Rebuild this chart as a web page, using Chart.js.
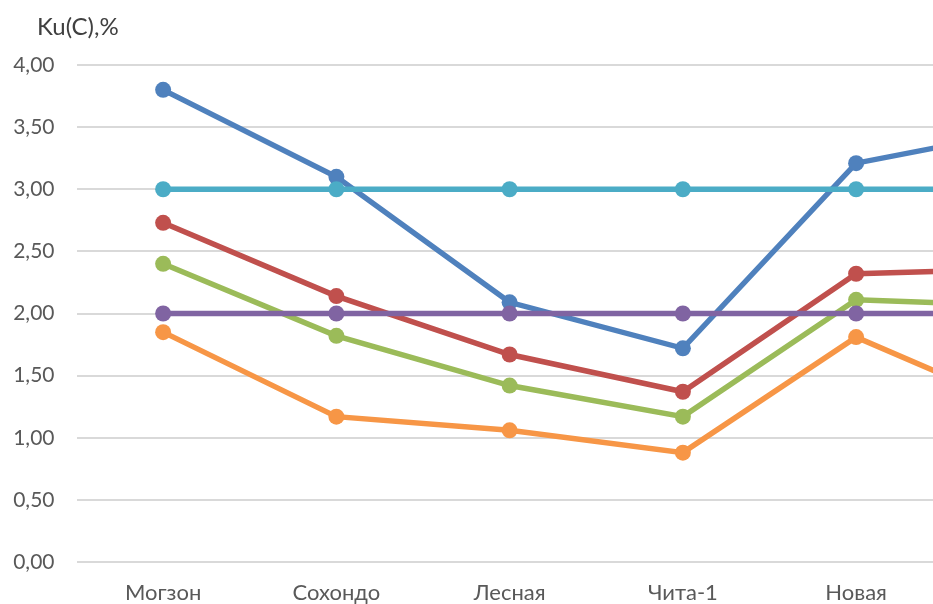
<!DOCTYPE html>
<html>
<head>
<meta charset="utf-8">
<script src="https://cdn.jsdelivr.net/npm/chart.js@4.4.1/dist/chart.umd.min.js"></script>
<style>
  html, body { margin: 0; padding: 0; background: #fff; overflow: hidden; }
  #wrap { width: 933px; height: 604px; overflow: hidden; position: relative; }
  canvas { display: block; }
</style>
</head>
<body>
<div id="wrap"><canvas id="chart" width="1124" height="604"></canvas></div>
<script>
// stations along the profile (last one lies past the visible edge)
const stations = ['Могзон', 'Сохондо', 'Лесная', 'Чита-1', 'Новая', ''];

const seriesBlue   = [3.80, 3.10, 2.09, 1.72, 3.21, 3.48];
const seriesRed    = [2.73, 2.14, 1.67, 1.37, 2.32, 2.36];
const seriesGreen  = [2.40, 1.82, 1.42, 1.17, 2.11, 2.06];
const seriesPurple = [2.00, 2.00, 2.00, 2.00, 2.00, 2.00];
const seriesAqua   = [3.00, 3.00, 3.00, 3.00, 3.00, 3.00];
const seriesOrange = [1.85, 1.17, 1.06, 0.88, 1.81, 1.21];

const yTicks = [0, 0.5, 1, 1.5, 2, 2.5, 3, 3.5, 4];

const FONT = 'Lato, "Open Sans", sans-serif';

const mk = (label, data, color, order) => ({
  label, data, order,
  borderColor: color,
  backgroundColor: color,
  pointBackgroundColor: color,
  pointBorderColor: color,
  borderWidth: 5.5,
  pointRadius: 8,
  pointBorderWidth: 0,
  tension: 0,
  fill: false
});

// axis caption in the top-left corner
const caption = {
  id: 'caption',
  afterDraw(chart) {
    const ctx = chart.ctx;
    ctx.save();
    ctx.font = '24px ' + FONT;
    ctx.fillStyle = '#404040';
    ctx.textBaseline = 'middle';
    ctx.fillText('Ku(C),%', 37, 27);
    ctx.restore();
  }
};

new Chart(document.getElementById('chart'), {
  type: 'line',
  data: {
    labels: stations,
    datasets: [
      mk('Ряд 1', seriesBlue,   '#4F81BD', 6),
      mk('Ряд 2', seriesRed,    '#C0504D', 5),
      mk('Ряд 3', seriesGreen,  '#9BBB59', 4),
      mk('Ряд 4', seriesPurple, '#8064A2', 3),
      mk('Ряд 5', seriesAqua,   '#4BACC6', 2),
      mk('Ряд 6', seriesOrange, '#F79646', 1)
    ]
  },
  options: {
    responsive: false,
    animation: false,
    layout: { padding: { top: 65, left: 0, right: 0, bottom: 0 } },
    plugins: { legend: { display: false }, tooltip: { enabled: false }, title: { display: false } },
    scales: {
      x: {
        offset: true,
        grid: { display: false, drawTicks: false },
        border: { display: false },
        ticks: { color: '#595959', font: { family: FONT, size: 22 }, padding: 18, maxRotation: 0 },
        afterFit: s => { s.height = 42; }
      },
      y: {
        min: 0, max: 4,
        afterBuildTicks: s => { s.ticks = yTicks.map(v => ({ value: v })); },
        grid: { color: '#d9d9d9', lineWidth: 2, drawTicks: false },
        border: { display: false },
        ticks: {
          color: '#595959',
          font: { family: FONT, size: 21 },
          padding: 22,
          callback: v => v.toFixed(2).replace('.', ',')
        },
        afterFit: s => { s.width = 76.5; }
      }
    }
  },
  plugins: [caption]
});
</script>
</body>
</html>
